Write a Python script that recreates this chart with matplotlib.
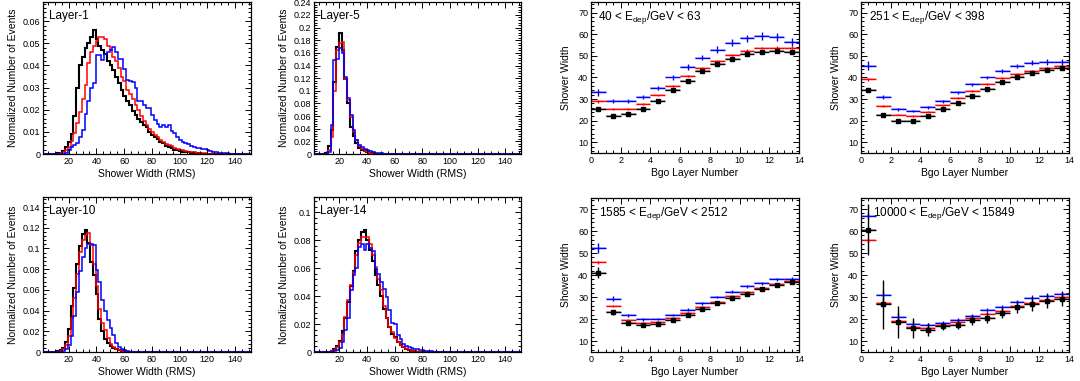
import numpy as np
import matplotlib
matplotlib.use("Agg")
import matplotlib.pyplot as plt
from matplotlib.ticker import MultipleLocator, AutoMinorLocator, FormatStrFormatter

plt.rcParams['font.family'] = ['Liberation Sans', 'DejaVu Sans']
plt.rcParams['mathtext.default'] = 'regular'

# ---- histogram data (2-unit bins from 1.5 to 151.5) ----
edges = np.arange(1.5, 153.5, 2.0)

# Layer-1, first bin centre 12.5
l1_start = 12.5
l1_black = [0.0003, 0.0006, 0.0012, 0.0033, 0.0055, 0.0092, 0.017, 0.030, 0.040, 0.044,
            0.048, 0.050, 0.053, 0.056, 0.052, 0.049, 0.047, 0.045, 0.042, 0.040,
            0.038, 0.035, 0.032, 0.029, 0.026, 0.024, 0.022, 0.0195, 0.0175, 0.016,
            0.0145, 0.013, 0.012, 0.010, 0.0088, 0.0075, 0.0066, 0.0055, 0.0048, 0.0038,
            0.0031, 0.0025, 0.002, 0.0016, 0.0013, 0.001, 0.0008, 0.0007, 0.0005, 0.0004,
            0.0003, 0.0003, 0.0002, 0.0002, 0.0001]
l1_red = [0.0001, 0.0003, 0.0008, 0.002, 0.0033, 0.006, 0.0095, 0.014, 0.019, 0.025,
          0.031, 0.041, 0.046, 0.049, 0.051, 0.053, 0.053, 0.052, 0.049, 0.047,
          0.044, 0.042, 0.039, 0.035, 0.033, 0.029, 0.027, 0.025, 0.022, 0.020,
          0.017, 0.015, 0.013, 0.0115, 0.010, 0.0087, 0.0075, 0.0065, 0.0055, 0.0047,
          0.004, 0.0034, 0.0028, 0.0023, 0.0019, 0.0016, 0.0014, 0.0011, 0.0009, 0.0007,
          0.0006, 0.0005, 0.0004, 0.0003, 0.0002, 0.0002, 0.0001]
l1_blue = [0.0, 0.0001, 0.0002, 0.0005, 0.002, 0.003, 0.004, 0.005, 0.0075, 0.011,
           0.018, 0.024, 0.030, 0.032, 0.0447, 0.0447, 0.0424, 0.0454, 0.046, 0.047,
           0.0484, 0.046, 0.043, 0.043, 0.0386, 0.0334, 0.033, 0.0326, 0.030, 0.024,
           0.024, 0.022, 0.021, 0.021, 0.0176, 0.0155, 0.0135, 0.012, 0.013, 0.012,
           0.013, 0.0105, 0.0095, 0.0078, 0.0065, 0.0056, 0.005, 0.0045, 0.0036, 0.0032,
           0.0028, 0.0026, 0.0022, 0.0021, 0.0018, 0.0012, 0.001, 0.0008, 0.0006, 0.0005,
           0.0004, 0.0003, 0.0002, 0.0001]

# Layer-5, first bin centre 10.5
l5_start = 10.5
l5_black = [0.001, 0.012, 0.038, 0.114, 0.170, 0.192, 0.165, 0.118, 0.080, 0.043,
            0.028, 0.017, 0.010, 0.006, 0.004, 0.0025, 0.0015, 0.001, 0.0006, 0.0004,
            0.0002]
l5_red = [0.0005, 0.006, 0.027, 0.100, 0.164, 0.176, 0.177, 0.118, 0.085, 0.058,
          0.035, 0.022, 0.013, 0.008, 0.005, 0.003, 0.002, 0.0012, 0.0007, 0.0004,
          0.0002]
l5_blue = [0.0, 0.003, 0.046, 0.148, 0.150, 0.167, 0.159, 0.122, 0.088, 0.062,
           0.038, 0.022, 0.015, 0.011, 0.008, 0.006, 0.004, 0.003, 0.002, 0.0015,
           0.001, 0.0007, 0.0004, 0.0002]

# Layer-10, first bin centre 12.5
l10_start = 12.5
l10_black = [0.0005, 0.002, 0.004, 0.010, 0.022, 0.044, 0.062, 0.085, 0.102, 0.114,
             0.118, 0.105, 0.087, 0.074, 0.056, 0.032, 0.020, 0.013, 0.009, 0.006,
             0.004, 0.0025, 0.0015, 0.001, 0.0006, 0.0004, 0.0002]
l10_red = [0.0003, 0.001, 0.003, 0.007, 0.015, 0.033, 0.052, 0.075, 0.097, 0.108,
           0.113, 0.115, 0.103, 0.085, 0.064, 0.042, 0.028, 0.021, 0.014, 0.008,
           0.005, 0.003, 0.002, 0.0012, 0.0007, 0.0004, 0.0002]
l10_blue = [0.0, 0.0003, 0.001, 0.003, 0.007, 0.015, 0.035, 0.058, 0.078, 0.092,
            0.100, 0.104, 0.104, 0.103, 0.079, 0.068, 0.050, 0.040, 0.031, 0.023,
            0.016, 0.009, 0.005, 0.003, 0.0015, 0.0008, 0.0004, 0.0002]

# Layer-14, first bin centre 12.5
l14_start = 12.5
l14_black = [0.0002, 0.0008, 0.002, 0.0045, 0.008, 0.015, 0.024, 0.036, 0.047, 0.058,
             0.072, 0.080, 0.086, 0.087, 0.080, 0.073, 0.065, 0.055, 0.048, 0.040,
             0.031, 0.024, 0.018, 0.013, 0.0105, 0.0075, 0.005, 0.0035, 0.002, 0.0012,
             0.0007, 0.0004, 0.0002]
l14_red = [0.0001, 0.0005, 0.0015, 0.0035, 0.007, 0.013, 0.025, 0.037, 0.048, 0.057,
           0.069, 0.078, 0.082, 0.082, 0.082, 0.077, 0.069, 0.061, 0.052, 0.044,
           0.033, 0.024, 0.018, 0.014, 0.010, 0.007, 0.005, 0.0035, 0.0024, 0.0015,
           0.001, 0.0006, 0.0003, 0.0002]
l14_blue = [0.0, 0.0002, 0.0007, 0.0015, 0.003, 0.007, 0.016, 0.024, 0.044, 0.055,
            0.060, 0.075, 0.077, 0.073, 0.077, 0.074, 0.072, 0.059, 0.056, 0.050,
            0.045, 0.039, 0.030, 0.021, 0.020, 0.012, 0.009, 0.006, 0.0045, 0.0036,
            0.003, 0.0024, 0.002, 0.0015, 0.0012, 0.001, 0.0007, 0.0004, 0.0002]

hist_panels = [
    ("Layer-1", l1_start, l1_black, l1_red, l1_blue, 0.0687, 0.01),
    ("Layer-5", l5_start, l5_black, l5_red, l5_blue, 0.2405, 0.02),
    ("Layer-10", l10_start, l10_black, l10_red, l10_blue, 0.1497, 0.02),
    ("Layer-14", l14_start, l14_black, l14_red, l14_blue, 0.1108, 0.02),
]

# ---- shower width vs BGO layer ----
layers = np.arange(14) + 0.5

e1_label = "40 < E$_{dep}$/GeV < 63"
e1_blue = [33.1, 29.2, 29.0, 30.9, 35.2, 40.0, 44.9, 49.2, 52.9, 56.2, 58.2, 59.2, 58.6, 56.3]
e1_red = [28.9, 25.4, 25.4, 27.8, 31.7, 36.0, 40.5, 44.3, 47.8, 50.6, 52.5, 53.7, 53.8, 53.8]
e1_black = [25.2, 22.0, 23.1, 25.2, 29.2, 34.2, 38.2, 43.2, 46.3, 48.8, 50.9, 51.7, 52.3, 51.7]
e1_blue_err = [1.5, 1.0, 1.0, 1.0, 1.0, 1.2, 1.2, 1.3, 1.5, 1.6, 1.7, 1.9, 1.8, 1.8]
e1_red_err = [0.6, 0.4, 0.4, 0.4, 0.4, 0.5, 0.5, 0.5, 0.5, 0.5, 0.5, 0.6, 0.6, 0.6]
e1_black_err = [0.5, 0.4, 0.4, 0.4, 0.4, 0.4, 0.4, 0.4, 0.4, 0.4, 0.4, 0.4, 0.4, 0.4]

e2_label = "251 < E$_{dep}$/GeV < 398"
e2_blue = [45.5, 30.8, 25.2, 24.5, 26.2, 29.1, 33.1, 36.9, 40.0, 43.1, 45.2, 46.8, 47.2, 47.1]
e2_red = [39.1, 26.9, 22.8, 22.2, 24.2, 27.1, 30.5, 33.8, 36.9, 39.8, 41.7, 43.2, 44.3, 45.2]
e2_black = [34.0, 22.6, 19.8, 19.8, 22.0, 25.2, 28.2, 31.4, 34.8, 37.7, 40.2, 42.2, 43.4, 44.6]
e2_blue_err = [2.0, 0.9, 0.6, 0.6, 0.6, 0.7, 0.7, 0.7, 0.8, 0.9, 1.0, 1.1, 1.2, 1.3]
e2_red_err = [0.5, 0.4, 0.3, 0.3, 0.3, 0.3, 0.3, 0.3, 0.4, 0.4, 0.4, 0.4, 0.4, 0.4]
e2_black_err = [0.4, 0.3, 0.3, 0.3, 0.3, 0.3, 0.3, 0.3, 0.3, 0.3, 0.3, 0.3, 0.3, 0.3]

e3_label = "1585 < E$_{dep}$/GeV < 2512"
e3_blue = [52.3, 29.2, 21.7, 19.8, 20.0, 21.8, 24.3, 27.1, 30.0, 32.5, 34.8, 36.3, 38.0, 38.0]
e3_red = [45.7, 25.8, 19.5, 18.2, 18.6, 20.3, 22.8, 25.4, 27.8, 30.3, 32.2, 34.0, 35.7, 37.1]
e3_black = [41.1, 23.1, 18.3, 17.1, 17.7, 19.7, 21.7, 24.6, 27.1, 29.4, 31.5, 33.7, 35.5, 36.6]
e3_blue_err = [2.3, 1.1, 0.6, 0.5, 0.5, 0.5, 0.5, 0.6, 0.6, 0.6, 0.7, 0.7, 0.8, 0.9]
e3_red_err = [0.8, 0.4, 0.3, 0.3, 0.3, 0.3, 0.3, 0.3, 0.3, 0.3, 0.3, 0.4, 0.4, 0.4]
e3_black_err = [2.5, 1.1, 0.7, 0.6, 0.6, 0.6, 0.6, 0.6, 0.6, 0.6, 0.7, 0.7, 0.7, 0.8]

e4_label = "10000 < E$_{dep}$/GeV < 15849"
e4_blue = [66.9, 30.9, 20.9, 17.7, 17.1, 18.0, 19.4, 21.4, 24.2, 25.5, 27.7, 29.5, 30.6, 31.2]
e4_red = [55.7, 27.5, 19.1, 16.5, 15.8, 17.1, 18.5, 20.3, 22.2, 23.8, 25.7, 27.5, 28.6, 30.0]
e4_black = [60.6, 26.6, 18.6, 16.0, 15.2, 16.8, 17.4, 19.5, 20.6, 22.8, 25.5, 26.8, 28.2, 29.1]
e4_blue_err = [1.5, 2.2, 1.8, 1.2, 1.0, 1.0, 1.0, 1.0, 1.0, 1.0, 1.0, 1.2, 1.3, 1.4]
e4_red_err = [1.2, 1.5, 1.0, 0.8, 0.7, 0.7, 0.7, 0.7, 0.7, 0.7, 0.8, 0.8, 0.9, 0.9]
e4_black_err = [11.5, 11.3, 7.3, 4.5, 3.0, 2.0, 2.0, 2.2, 2.5, 2.5, 2.8, 3.0, 3.2, 3.3]

width_panels = [
    (e1_label, e1_black, e1_red, e1_blue, e1_black_err, e1_red_err, e1_blue_err, 0.035),
    (e2_label, e2_black, e2_red, e2_blue, e2_black_err, e2_red_err, e2_blue_err, 0.04),
    (e3_label, e3_black, e3_red, e3_blue, e3_black_err, e3_red_err, e3_blue_err, 0.04),
    (e4_label, e4_black, e4_red, e4_blue, e4_black_err, e4_red_err, e4_blue_err, 0.058),
]

fig = plt.figure(figsize=(10.8, 3.81), dpi=100)

# axes rectangles in figure fractions
hist_rects = [(0.0398, 0.5958, 0.1926, 0.399), (0.2907, 0.5958, 0.1917, 0.399),
              (0.0398, 0.0761, 0.1926, 0.4068), (0.2907, 0.0761, 0.1917, 0.4068)]
width_rects = [(0.5472, 0.5984, 0.1926, 0.3964), (0.7972, 0.5984, 0.1926, 0.3964),
               (0.5472, 0.0761, 0.1926, 0.4042), (0.7972, 0.0761, 0.1926, 0.4042)]


def root_style(ax):
    ax.tick_params(which='both', direction='in', top=True, right=True,
                   labelsize=6.5, width=0.7, pad=2)
    ax.tick_params(which='major', length=4.5)
    ax.tick_params(which='minor', length=2.3)
    for s in ax.spines.values():
        s.set_linewidth(0.9)


def pad(vals, start):
    full = np.zeros(len(edges) - 1)
    i0 = int(round((start - 2.5) / 2.0))
    full[i0:i0 + len(vals)] = vals
    return full


for rect, (name, start, blk, red, blu, ytop, ystep) in zip(hist_rects, hist_panels):
    ax = fig.add_axes(rect)
    ax.stairs(pad(blk, start), edges, color='black', lw=1.5)
    ax.stairs(pad(red, start), edges, color='red', lw=1.1)
    ax.stairs(pad(blu, start), edges, color='blue', lw=1.1)
    ax.set_xlim(1.5, 151.5)
    ax.set_ylim(0, ytop)
    ax.xaxis.set_major_locator(MultipleLocator(20))
    ax.xaxis.set_minor_locator(AutoMinorLocator(4))
    ax.yaxis.set_major_locator(MultipleLocator(ystep))
    ax.yaxis.set_minor_locator(AutoMinorLocator(5))
    ax.yaxis.set_major_formatter(FormatStrFormatter('%g'))
    root_style(ax)
    ax.set_xlabel("Shower Width (RMS)", fontsize=7.5, labelpad=2)
    ax.set_ylabel("Normalized Number of Events", fontsize=7.5, labelpad=3)
    ax.text(0.03, 0.91, name, transform=ax.transAxes, fontsize=8.5, va='center')

for rect, (lab, blk, red, blu, eb, er, eu, tx) in zip(width_rects, width_panels):
    ax = fig.add_axes(rect)
    for vals, errs, col, band in [(blu, eu, 'blue', '#9999ff'),
                                  (red, er, 'red', '#ff9999'),
                                  (blk, eb, 'black', '#888888')]:
        ax.bar(layers, 0.9, width=1.0, bottom=np.array(vals) - 0.45,
               color=band, alpha=0.6, linewidth=0)
        ax.errorbar(layers, vals, xerr=0.5, yerr=errs, fmt='none',
                    ecolor=col, elinewidth=1.0, capsize=0)
    ax.plot(layers, blk, 's', color='black', ms=2.5)
    ax.set_xlim(0, 14)
    ax.set_ylim(5, 75)
    ax.xaxis.set_major_locator(MultipleLocator(2))
    ax.xaxis.set_minor_locator(AutoMinorLocator(4))
    ax.yaxis.set_major_locator(MultipleLocator(10))
    ax.yaxis.set_minor_locator(AutoMinorLocator(5))
    ax.set_yticks([10, 20, 30, 40, 50, 60, 70])
    root_style(ax)
    ax.set_xlabel("Bgo Layer Number", fontsize=7.5, labelpad=2)
    ax.set_ylabel("Shower Width", fontsize=7.5, labelpad=5)
    ax.text(tx, 0.9, lab, transform=ax.transAxes, fontsize=8.5, va='center')

fig.savefig("out.png", dpi=100)
